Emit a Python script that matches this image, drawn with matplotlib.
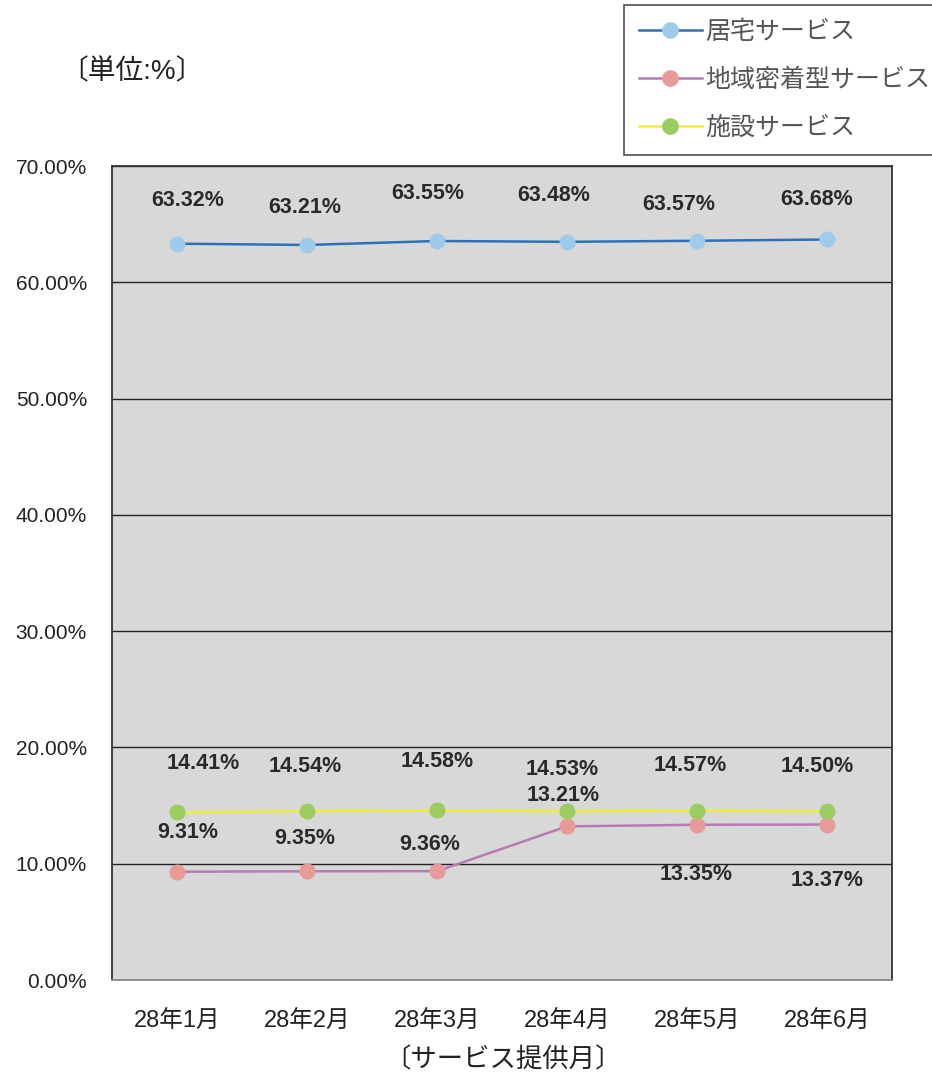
import matplotlib
matplotlib.use("Agg")
import matplotlib.pyplot as plt
from matplotlib.lines import Line2D

plt.rcParams['font.family'] = ['Liberation Sans', 'Noto Sans CJK JP', 'DejaVu Sans']

months = ["28年1月", "28年2月", "28年3月", "28年4月", "28年5月", "28年6月"]
series_names = ["居宅サービス", "地域密着型サービス", "施設サービス"]
kyotaku = [63.32, 63.21, 63.55, 63.48, 63.57, 63.68]
chiiki = [9.31, 9.35, 9.36, 13.21, 13.35, 13.37]
shisetsu = [14.41, 14.54, 14.58, 14.53, 14.57, 14.50]
yticks = [0, 10, 20, 30, 40, 50, 60, 70]

# label offsets in pixels (dx, dy)
off_k = [(11, 43), (-2, 37), (-9, 48), (-13, 46), (-18, 36), (-10, 40)]
off_c = [(11, 39), (-2, 33), (-7, 27), (-4, 31), (-1, -50), (0, -56)]
off_s = [(26, 49), (-2, 44), (0, 49), (-5, 42), (-7, 45), (-10, 45)]

W, H = 932, 1075
fig = plt.figure(figsize=(W / 100, H / 100), dpi=100)
ax = fig.add_axes([112 / W, 1 - 980 / H, 780 / W, 814 / H])
ax.set_facecolor("#d8d8d8")

x = list(range(len(months)))
styles = [
    (kyotaku, "#2f6fb8", "#9fcaec", off_k),
    (chiiki, "#b77ab5", "#e79a98", off_c),
    (shisetsu, "#eef03a", "#9ccb62", off_s),
]
handles = []
for (vals, lc, mc, offs), name in zip(styles, series_names):
    ax.plot(x, vals, color=lc, lw=1.8, marker="o", ms=10.5, mfc=mc, mec=mc, zorder=3)
    handles.append(Line2D([], [], color=lc, lw=1.8, marker="o", ms=11, mfc=mc, mec=mc, label=name))
    for xi, v, (dx, dy) in zip(x, vals, offs):
        ax.annotate(f"{v:.2f}%", (xi, v), xytext=(dx, dy), textcoords="offset pixels",
                    ha="center", va="center", fontsize=15.5, fontweight="bold", color="#2a2a2a", zorder=4)

ax.set_xlim(-0.5, len(months) - 0.5)
ax.set_ylim(0, 70)
ax.set_yticks(yticks)
ax.set_yticklabels([f"{t:.2f}%" for t in yticks], fontsize=15, color="#222222")
ax.set_xticks(x)
ax.set_xticklabels(months, fontsize=17, color="#222222")
ax.tick_params(axis="both", length=0)
ax.tick_params(axis="y", pad=18)
ax.tick_params(axis="x", pad=22)
ax.grid(axis="y", color="#222222", lw=1)
ax.set_axisbelow(True)
for s in ax.spines.values():
    s.set_color("#333333")
    s.set_linewidth(1.3)
ax.spines["bottom"].set_color("#888888")

fig.text(60 / W, 1 - 72 / H, "〔単位:%〕", fontsize=20, color="#222222", va="center", ha="left")
fig.text(503 / W, 1 - 1060 / H, "〔サービス提供月〕", fontsize=19, color="#222222", va="center", ha="center")

leg = fig.legend(handles=handles, loc="upper left", bbox_to_anchor=(624 / W, 1 - 5 / H),
                 fontsize=18, frameon=True, fancybox=False, edgecolor="#222222",
                 handlelength=2.5, labelspacing=0.95, borderpad=0.6, handletextpad=0.15,
                 borderaxespad=0)
leg.get_frame().set_linewidth(1.2)
for t in leg.get_texts():
    t.set_color("#555555")

fig.savefig("out.png", dpi=100, facecolor="white")
